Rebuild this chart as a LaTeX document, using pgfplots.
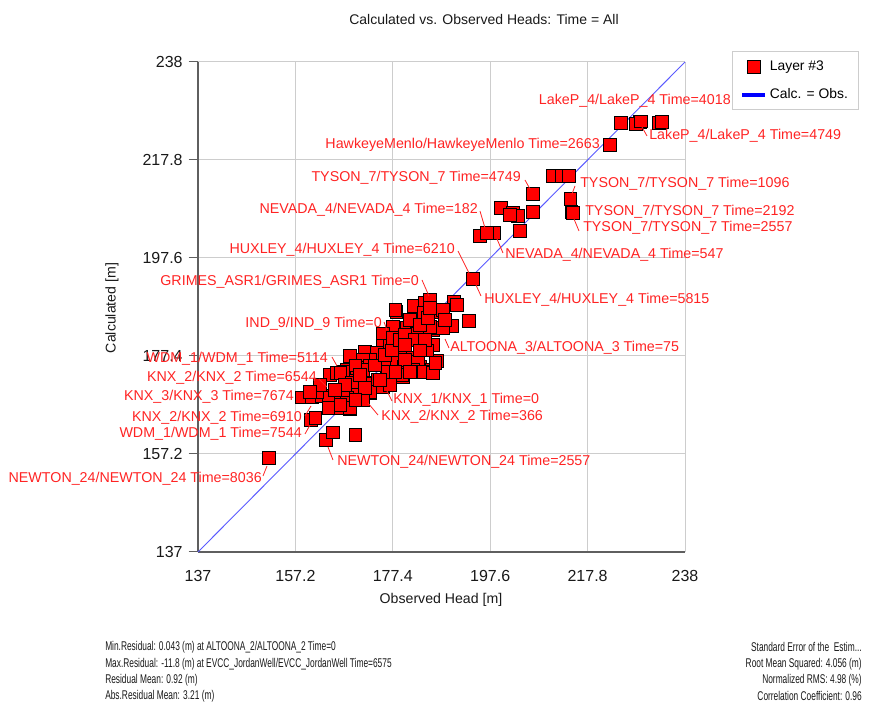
\documentclass[border=0pt]{standalone}
\usepackage{fontspec}
\setmainfont{Liberation Sans}
\usepackage{pgfplots}
\usepackage{pgfplotstable}
\pgfplotsset{compat=1.18}
\definecolor{lblred}{RGB}{255,35,35}
\definecolor{gridgray}{RGB}{205,205,205}
\definecolor{axgray}{RGB}{95,95,95}
\definecolor{diagblue}{RGB}{90,90,255}

\pgfplotstableread{
x y
224.7 225.4
228.7 225.6
227.8 225.2
228.9 225.8
232.6 225.4
233.2 225.6
222.4 220.9
210.6 214.5
212.5 214.5
213.9 214.5
206.5 210.8
214.2 209.8
214.4 207.1
214.8 206.9
206.5 207.1
199.8 207.9
202.3 206.9
203.4 206.3
201.7 206.5
203.8 203.2
195.5 202.1
198.4 202.8
196.9 202.8
194.0 193.3
190.1 188.5
190.7 187.9
193.2 184.6
189.7 183.6
178.1 186.5
181.8 187.7
184.1 188.3
185.1 189.1
186.2 186.9
187.2 186.5
183.7 186.3
178.3 183.2
180.3 183.2
185.7 182.8
186.8 183.2
175.4 180.3
176.8 180.3
185.7 179.7
186.6 176.4
185.7 174.1
168.5 177.4
171.6 178.2
174.1 178.0
178.3 177.0
181.6 177.0
183.0 175.1
179.5 173.1
176.2 174.5
172.7 176.6
167.9 174.5
164.4 173.5
165.8 173.9
169.1 171.8
172.3 172.0
174.1 171.8
175.4 171.0
158.6 168.9
160.6 168.9
162.7 169.2
164.4 168.7
166.5 168.9
168.5 169.4
170.6 169.8
172.7 169.8
164.0 166.9
165.8 166.7
168.5 166.5
160.4 164.2
161.3 164.6
163.5 160.1
165.0 161.7
169.6 161.1
151.7 156.4
177.9 186.9
177.4 183.4
175.4 182.1
177.4 181.1
178.9 179.3
171.2 176.6
172.7 175.5
167.1 174.1
170.0 174.9
176.2 176.2
178.3 176.6
182.6 176.2
185.5 174.5
179.7 175.1
183.5 174.1
184.5 178.6
182.4 182.1
185.1 183.4
187.8 183.2
186.6 186.5
187.8 186.9
166.5 173.9
168.9 172.0
172.3 171.8
171.2 174.5
174.3 172.5
176.4 174.1
179.3 173.5
181.6 174.5
183.7 174.1
185.7 173.9
186.2 176.0
172.7 170.0
170.0 169.4
167.9 168.9
164.0 168.9
161.7 170.0
164.0 166.7
168.5 166.7
171.2 168.3
175.2 171.0
167.1 170.4
169.6 175.5
170.6 173.5
173.7 175.5
175.8 177.6
177.2 178.6
178.9 180.7
179.9 181.7
181.0 184.8
183.0 183.8
182.0 180.7
184.1 180.7
179.9 176.6
181.0 174.1
177.9 174.1
176.8 171.4
171.6 170.8
167.5 171.4
165.4 170.4
162.3 171.4
160.2 170.0
166.5 167.3
169.6 168.3
174.7 172.5
183.0 178.6
184.7 185.2
188.2 184.8
185.1 187.3
179.9 179.7
}\obsdata

\pgfplotstableread{
x y
137 137
238 238
}\diagdata

\begin{document}
\begin{tikzpicture}
\useasboundingbox (-148.5pt,-114pt) rectangle (503.25pt,414pt);
\begin{axis}[
  at={(0,0)}, anchor=south west,
  width=365.25pt, height=367.5pt, scale only axis,
  xmin=137, xmax=238, ymin=137, ymax=238,
  xtick={137,157.2,177.4,197.6,217.8,238},
  ytick={137,157.2,177.4,197.6,217.8,238},
  xticklabels={137,157.2,177.4,197.6,217.8,238},
  yticklabels={137,157.2,177.4,197.6,217.8,238},
  axis lines=left,
  axis line style={-, axgray, line width=0.9pt},
  grid=major,
  major grid style={gridgray, line width=0.75pt},
  tick align=outside,
  major tick length=7pt,
  xtick style={draw=none},
  ytick style={axgray, line width=0.75pt},
  ticklabel style={font=\fontsize{12}{14}\selectfont, text=black!90},
  xticklabel style={yshift=-3pt},
  yticklabel style={xshift=-1pt},
  clip=false,
  legend cell align=left,
  legend style={at={(1.0965,1.0224)}, anchor=north west, draw=gridgray, fill=white,
    font=\fontsize{10.4}{12}\selectfont, inner xsep=6pt, inner ysep=5pt,
    row sep=8pt, line width=0.75pt},
]
\addplot[only marks, mark=square*, mark size=4.7pt,
  mark options={fill=red, draw=black, line width=0.6pt}] table[x=x, y=y] {\obsdata};
\addlegendentry{Layer \#3}
\addlegendimage{blue, line width=3pt}
\addlegendentry{Calc. = Obs.}
\addplot[diagblue, line width=0.7pt, forget plot] table[x=x, y=y] {\diagdata};
\end{axis}

\begin{scope}[x=0.75pt, y=-0.75pt, shift={(-148.5pt,414pt)},
  lbl/.style={font=\fontsize{10.7}{12}\selectfont, text=lblred, inner sep=0pt},
  ldr/.style={lblred, line width=0.6pt},
  foot/.style={font=\fontsize{9.5}{10}\selectfont, inner sep=0pt, text=black!90}]
\node[font=\fontsize{10.5}{12}\selectfont, text=black!90] at (484,19) {Calculated vs. Observed Heads: Time = All};
\node[font=\fontsize{10.6}{12}\selectfont, text=black!90] at (441,600) {Observed Head [m]};
\node[font=\fontsize{10.6}{12}\selectfont, text=black!90, rotate=90] at (112,308) {Calculated [m]};

% labels
\node[lbl, anchor=east] at (731,101) {LakeP\_4/LakeP\_4 Time=4018};
\draw[ldr] (642,127) -- (647,136);
\node[lbl, anchor=west] at (649,136) {LakeP\_4/LakeP\_4 Time=4749};
\node[lbl, anchor=east] at (600,145) {HawkeyeMenlo/HawkeyeMenlo Time=2663};
\node[lbl, anchor=east] at (521,178) {TYSON\_7/TYSON\_7 Time=4749};
\draw[ldr] (525,180) -- (530,189);
\node[lbl, anchor=west] at (580,184) {TYSON\_7/TYSON\_7 Time=1096};
\draw[ldr] (575,186) -- (572,194);
\node[lbl, anchor=east] at (478,210) {NEVADA\_4/NEVADA\_4 Time=182};
\draw[ldr] (480,211) -- (485,228);
\node[lbl, anchor=west] at (585,212) {TYSON\_7/TYSON\_7 Time=2192};
\node[lbl, anchor=west] at (583,228) {TYSON\_7/TYSON\_7 Time=2557};
\draw[ldr] (574,219) -- (579,231);
\node[lbl, anchor=east] at (455,250) {HUXLEY\_4/HUXLEY\_4 Time=6210};
\draw[ldr] (458,251) -- (469,273);
\node[lbl, anchor=west] at (505,255) {NEVADA\_4/NEVADA\_4 Time=547};
\draw[ldr] (497,239) -- (503,253);
\node[lbl, anchor=east] at (419,282) {GRIMES\_ASR1/GRIMES\_ASR1 Time=0};
\draw[ldr] (422,280) -- (429,296);
\node[lbl, anchor=west] at (484,300) {HUXLEY\_4/HUXLEY\_4 Time=5815};
\draw[ldr] (476,285) -- (481,296);
\node[lbl, anchor=east] at (382,324) {IND\_9/IND\_9 Time=0};
\draw[ldr] (384,322) -- (387,330);
\node[lbl, anchor=west] at (450,348) {ALTOONA\_3/ALTOONA\_3 Time=75};
\draw[ldr] (445,339) -- (449,348);
\node[lbl, anchor=east] at (328,359) {WDM\_1/WDM\_1 Time=5114};
\draw[ldr] (332,357) -- (337,366);
\node[lbl, anchor=east] at (317,378) {KNX\_2/KNX\_2 Time=6544};
\draw[ldr] (319,379) -- (327,387);
\node[lbl, anchor=east] at (294,397) {KNX\_3/KNX\_3 Time=7674};
\node[lbl, anchor=west] at (393,400) {KNX\_1/KNX\_1 Time=0};
\draw[ldr] (387,391) -- (392,401);
\node[lbl, anchor=east] at (302,418) {KNX\_2/KNX\_2 Time=6910};
\draw[ldr] (311,406) -- (305,416);
\node[lbl, anchor=west] at (381,417) {KNX\_2/KNX\_2 Time=366};
\draw[ldr] (368,403) -- (378,415);
\node[lbl, anchor=east] at (302,434) {WDM\_1/WDM\_1 Time=7544};
\draw[ldr] (310,425) -- (305,434);
\node[lbl, anchor=west] at (337,462) {NEWTON\_24/NEWTON\_24 Time=2557};
\draw[ldr] (328,447) -- (333,460);
\node[lbl, anchor=east] at (262,479) {NEWTON\_24/NEWTON\_24 Time=8036};
\draw[ldr] (267,466) -- (263,476);

% footer
\node[foot, anchor=west] at (105,647) {\scalebox{0.66}[1]{Min.Residual: 0.043 (m) at ALTOONA\_2/ALTOONA\_2 Time=0}};
\node[foot, anchor=west] at (105,664) {\scalebox{0.66}[1]{Max.Residual: -11.8 (m) at EVCC\_JordanWell/EVCC\_JordanWell Time=6575}};
\node[foot, anchor=west] at (105,680) {\scalebox{0.66}[1]{Residual Mean: 0.92 (m)}};
\node[foot, anchor=west] at (105,696) {\scalebox{0.66}[1]{Abs.Residual Mean: 3.21 (m)}};
\node[foot, anchor=east] at (862,647) {\scalebox{0.66}[1]{Standard Error of the\ \ Estim...}};
\node[foot, anchor=east] at (862,664) {\scalebox{0.66}[1]{Root Mean Squared: 4.056 (m)}};
\node[foot, anchor=east] at (862,680) {\scalebox{0.66}[1]{Normalized RMS: 4.98 (\%)}};
\node[foot, anchor=east] at (862,696) {\scalebox{0.66}[1]{Correlation Coefficient: 0.96}};
\end{scope}
\end{tikzpicture}
\end{document}
